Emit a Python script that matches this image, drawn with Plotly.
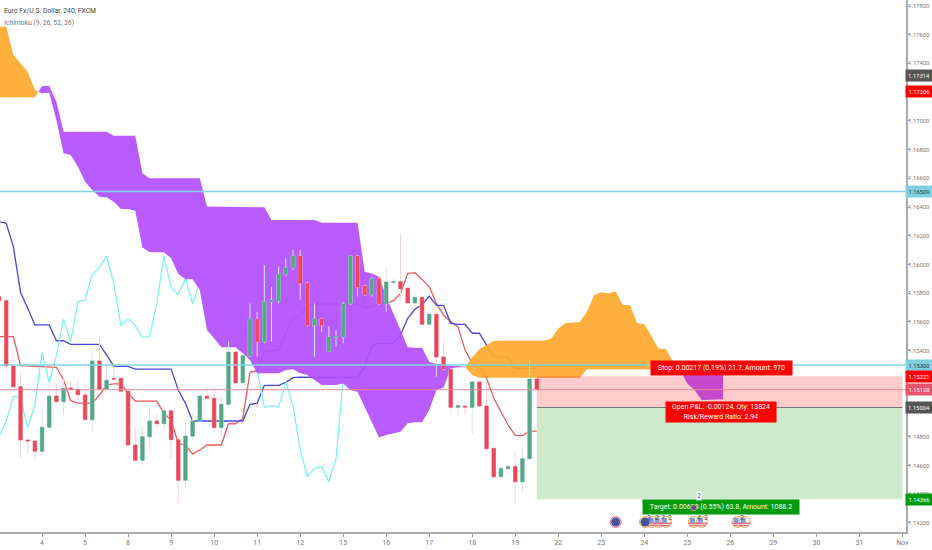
import plotly.graph_objects as go

# bar index 0 is the 4h bar under the "4" label, 6 bars per day
bar_x = list(range(-6, 70))
opens = [1.15776, 1.15748, 1.15293, 1.15149, 1.14778, 1.14771, 1.14699, 1.14866, 1.15084, 1.15045, 1.15140, 1.15128,
         1.15091, 1.14919, 1.15328, 1.15133, 1.15207, 1.15207, 1.15117, 1.14743, 1.14636, 1.14801, 1.14910, 1.14891,
         1.14982, 1.14780, 1.14497, 1.14805, 1.14908, 1.15082, 1.15068, 1.14864, 1.15026, 1.15390, 1.15177, 1.15365,
         1.15618, 1.15462, 1.15741, 1.15748, 1.15931, 1.15978, 1.16059, 1.15869, 1.15576, 1.15620, 1.15395, 1.15495,
         1.15495, 1.15727, 1.16059, 1.15850, 1.15790, 1.15903, 1.15727, 1.15876, 1.15880, 1.15836, 1.15732, 1.15771,
         1.15583, 1.15653, 1.15356, 1.15270, 1.15005, 1.15014, 1.15005, 1.15182, 1.15014, 1.14720, 1.14522, 1.14578,
         1.14594, 1.14487, 1.14648, 1.15202]
highs = [1.15822, 1.15764, 1.15293, 1.15253, 1.14789, 1.14771, 1.14998, 1.15172, 1.15172, 1.15219, 1.15195, 1.15195,
         1.15172, 1.15404, 1.15497, 1.15300, 1.15288, 1.15207, 1.15126, 1.14870, 1.14870, 1.14998, 1.14963, 1.14986,
         1.14986, 1.14789, 1.14905, 1.14963, 1.15084, 1.15154, 1.15149, 1.15079, 1.15462, 1.15390, 1.15370, 1.15729,
         1.15671, 1.15996, 1.15845, 1.15985, 1.16043, 1.16101, 1.16101, 1.15880, 1.15729, 1.15625, 1.15567, 1.15544,
         1.15741, 1.16059, 1.16066, 1.15857, 1.15915, 1.15915, 1.15985, 1.15903, 1.16217, 1.15836, 1.15811, 1.15771,
         1.15660, 1.15660, 1.15474, 1.15277, 1.15045, 1.15045, 1.15184, 1.15184, 1.15184, 1.14720, 1.14592, 1.14606,
         1.14696, 1.14720, 1.15335, 1.15202]
lows = [1.15748, 1.15265, 1.15144, 1.14650, 1.14685, 1.14643, 1.14673, 1.14866, 1.15033, 1.14952, 1.15126, 1.15056,
        1.14917, 1.14836, 1.15126, 1.15126, 1.15195, 1.15112, 1.14743, 1.14615, 1.14604, 1.14708, 1.14859, 1.14859,
        1.14650, 1.14337, 1.14441, 1.14778, 1.14905, 1.15060, 1.14836, 1.14812, 1.15020, 1.15161, 1.15172, 1.15358,
        1.15358, 1.15451, 1.15462, 1.15729, 1.15915, 1.15961, 1.15753, 1.15567, 1.15358, 1.15532, 1.15393, 1.15428,
        1.15451, 1.15718, 1.15776, 1.15780, 1.15776, 1.15718, 1.15671, 1.15857, 1.15753, 1.15718, 1.15728, 1.15579,
        1.15579, 1.15219, 1.15265, 1.14975, 1.14952, 1.14952, 1.14824, 1.15010, 1.14717, 1.14511, 1.14517, 1.14574,
        1.14337, 1.14418, 1.14645, 1.15125]
closes = [1.15748, 1.15293, 1.15149, 1.14778, 1.14771, 1.14699, 1.14866, 1.15084, 1.15045, 1.15137, 1.15133, 1.15093,
          1.14919, 1.15328, 1.15133, 1.15193, 1.15202, 1.15117, 1.14743, 1.14636, 1.14801, 1.14910, 1.14891, 1.14982,
          1.14780, 1.14497, 1.14805, 1.14908, 1.15084, 1.15068, 1.14864, 1.15026, 1.15390, 1.15177, 1.15365, 1.15618,
          1.15462, 1.15741, 1.15753, 1.15931, 1.15978, 1.16059, 1.15869, 1.15576, 1.15620, 1.15576, 1.15495, 1.15497,
          1.15727, 1.16059, 1.15841, 1.15790, 1.15903, 1.15727, 1.15878, 1.15880, 1.15831, 1.15732, 1.15771, 1.15583,
          1.15653, 1.15356, 1.15272, 1.15005, 1.15017, 1.15007, 1.15182, 1.15014, 1.14717, 1.14522, 1.14580, 1.14594,
          1.14487, 1.14648, 1.15202, 1.15128]

tenkan = [1.15497, 1.15497, 1.15497, 1.15295, 1.15293, 1.15291, 1.15291, 1.15288, 1.15284, 1.15196, 1.15052, 1.15035,
          1.15033, 1.15035, 1.15089, 1.15161, 1.15168, 1.15168, 1.15107, 1.15049, 1.15049, 1.15049, 1.15049, 1.14963,
          1.14917, 1.14754, 1.14743, 1.14680, 1.14708, 1.14743, 1.14743, 1.14743, 1.14891, 1.14891, 1.14928, 1.15249,
          1.15260, 1.15398, 1.15402, 1.15402, 1.15520, 1.15630, 1.15641, 1.15722, 1.15725, 1.15725, 1.15725, 1.15725,
          1.15725, 1.15725, 1.15725, 1.15702, 1.15708, 1.15727, 1.15727, 1.15748, 1.15799, 1.15938, 1.15943, 1.15896,
          1.15845, 1.15729, 1.15648, 1.15602, 1.15567, 1.15404, 1.15312, 1.15293, 1.15207, 1.15068, 1.14975, 1.14882,
          1.14810, 1.14808, 1.14840, 1.14840]
kijun = [1.16298, 1.16287, 1.16124, 1.15804, 1.15695, 1.15579, 1.15579, 1.15579, 1.15469, 1.15469, 1.15444, 1.15444,
         1.15444, 1.15444, 1.15444, 1.15370, 1.15293, 1.15291, 1.15291, 1.15272, 1.15272, 1.15272, 1.15272, 1.15272,
         1.15272, 1.15126, 1.15033, 1.14910, 1.14910, 1.14910, 1.14910, 1.14910, 1.14910, 1.14910, 1.14910, 1.15026,
         1.15033, 1.15158, 1.15158, 1.15158, 1.15179, 1.15212, 1.15216, 1.15214, 1.15214, 1.15214, 1.15214, 1.15214,
         1.15214, 1.15214, 1.15214, 1.15288, 1.15434, 1.15451, 1.15451, 1.15451, 1.15509, 1.15625, 1.15688, 1.15718,
         1.15780, 1.15715, 1.15715, 1.15590, 1.15583, 1.15583, 1.15521, 1.15521, 1.15439, 1.15358, 1.15353, 1.15353,
         1.15277, 1.15277, 1.15277, 1.15277]

chikou_x = list(range(-6, 44))
chikou = [1.14805, 1.14908, 1.15084, 1.15068, 1.14864, 1.15026, 1.15390, 1.15177, 1.15365, 1.15618, 1.15462, 1.15741,
          1.15753, 1.15931, 1.15978, 1.16059, 1.15869, 1.15576, 1.15620, 1.15576, 1.15495, 1.15497, 1.15727, 1.16059,
          1.15841, 1.15790, 1.15903, 1.15727, 1.15878, 1.15880, 1.15831, 1.15732, 1.15771, 1.15583, 1.15653, 1.15356,
          1.15272, 1.15005, 1.15017, 1.15007, 1.15182, 1.15014, 1.14717, 1.14522, 1.14580, 1.14594, 1.14487, 1.14648,
          1.15202, 1.15128]

span_x = list(range(-6, 96))
span_a = [1.17656, 1.17656, 1.17459, 1.17401, 1.17343, 1.17215, 1.17192, 1.17196, 1.17006, 1.16774, 1.16762, 1.16681,
          1.16577, 1.16519, 1.16472, 1.16468, 1.16437, 1.16386, 1.16386, 1.16375, 1.16119, 1.16085, 1.16085, 1.16085,
          1.16043, 1.15934, 1.15897, 1.15897, 1.15822, 1.15544, 1.15486, 1.15423, 1.15423, 1.15423, 1.15381, 1.15335,
          1.15242, 1.15242, 1.15242, 1.15242, 1.15265, 1.15270, 1.15242, 1.15230, 1.15195, 1.15161, 1.15161, 1.15161,
          1.15172, 1.15126, 1.15114, 1.15010, 1.14894, 1.14796, 1.14812, 1.14824, 1.14836, 1.14894, 1.14901, 1.14901,
          1.14987, 1.15126, 1.15144, 1.15277, 1.15284, 1.15284, 1.15353, 1.15411, 1.15439, 1.15467, 1.15469, 1.15469,
          1.15469, 1.15469, 1.15469, 1.15469, 1.15469, 1.15483, 1.15555, 1.15590, 1.15595, 1.15599, 1.15671, 1.15787,
          1.15806, 1.15799, 1.15813, 1.15718, 1.15718, 1.15590, 1.15586, 1.15497, 1.15414, 1.15414, 1.15325, 1.15260,
          1.15172, 1.15126, 1.15056, 1.15056, 1.15061, 1.15061]
span_b = [1.17164, 1.17164, 1.17164, 1.17164, 1.17164, 1.17164, 1.17243, 1.17243, 1.17134, 1.16925, 1.16925, 1.16925,
          1.16925, 1.16925, 1.16925, 1.16925, 1.16897, 1.16897, 1.16897, 1.16897, 1.16635, 1.16600, 1.16600, 1.16600,
          1.16600, 1.16600, 1.16600, 1.16600, 1.16600, 1.16403, 1.16398, 1.16398, 1.16398, 1.16398, 1.16398, 1.16398,
          1.16398, 1.16398, 1.16310, 1.16310, 1.16310, 1.16310, 1.16310, 1.16310, 1.16310, 1.16291, 1.16291, 1.16291,
          1.16291, 1.16291, 1.16291, 1.15950, 1.15938, 1.15915, 1.15776, 1.15660, 1.15544, 1.15423, 1.15421, 1.15421,
          1.15323, 1.15307, 1.15307, 1.15293, 1.15293, 1.15288, 1.15230, 1.15212, 1.15212, 1.15212, 1.15212, 1.15212,
          1.15212, 1.15212, 1.15212, 1.15212, 1.15212, 1.15212, 1.15212, 1.15212, 1.15212, 1.15212, 1.15270, 1.15270,
          1.15270, 1.15270, 1.15270, 1.15270, 1.15270, 1.15270, 1.15270, 1.15270, 1.15270, 1.15270, 1.15270, 1.15270,
          1.15270, 1.15270, 1.15270, 1.15270, 1.15270, 1.15270]

x_ticks = list(range(0, 121, 6))
x_labels = ["4", "5", "8", "9", "10", "11", "12", "15", "16", "17", "18", "19", "22", "23", "24", "25", "26", "29",
            "30", "31", "Nov"]
y_ticks = [1.178, 1.176, 1.174, 1.172, 1.17, 1.168, 1.166, 1.164, 1.162, 1.16, 1.158, 1.156, 1.154, 1.152, 1.15,
           1.148, 1.146, 1.144, 1.142]

level_upper = 1.16509
level_lower = 1.15300
last_price = 1.15128
stop_price = 1.15221
entry_price = 1.15004
target_price = 1.14366
trade_start = 69
trade_end = 120

eur_events = [80, 84.1]
usd_events = [85.1, 86, 87, 90.9, 92, 97, 98]
event_y = 1.14207
event_top_x = 90.9
event_top_y = 1.14318
event_counts = [(84.6, "3"), (85.7, "2"), (86.6, "7"), (87.6, "2"), (91.6, "4"), (92.6, "3"), (97.6, "2")]

# right hand price tags: price, background, text colour
price_tags = [
    (1.17314, "#555555", "white"),
    (1.17206, "#ff0000", "white"),
    (1.16509, "#7fd0e2", "#333333"),
    (1.15300, "#7fd0e2", "#333333"),
    (1.15221, "#ff0000", "white"),
    (1.15128, "#e9526a", "white"),
    (1.15004, "#555555", "white"),
    (1.14366, "#009c0d", "white"),
]

ORANGE = "rgba(255,168,45,0.92)"
PURPLE = "rgba(178,78,255,0.92)"
FONT = "Roboto"
X_RANGE = [-5.866, 120.5]
Y_RANGE = [1.141371, 1.178418]

fig = go.Figure()

fig.add_trace(go.Scatter(x=bar_x, y=tenkan, mode="lines", line=dict(color="#ee5a5a", width=1.3)))
fig.add_trace(go.Scatter(x=bar_x, y=kijun, mode="lines", line=dict(color="#4a46d8", width=1.3)))
fig.add_trace(go.Scatter(x=chikou_x, y=chikou, mode="lines", line=dict(color="#74f2f2", width=1.2)))

# cloud: one polygon per stretch between span crossings
seg_x, seg_a, seg_b = [span_x[0]], [span_a[0]], [span_b[0]]
for i in range(1, len(span_x)):
    d0 = span_a[i - 1] - span_b[i - 1]
    d1 = span_a[i] - span_b[i]
    if d0 * d1 < 0:
        t = d0 / (d0 - d1)
        cx = span_x[i - 1] + t
        cy = span_a[i - 1] + t * (span_a[i] - span_a[i - 1])
        seg_x.append(cx)
        seg_a.append(cy)
        seg_b.append(cy)
        fig.add_trace(go.Scatter(x=seg_x + seg_x[::-1], y=seg_a + seg_b[::-1], mode="lines", fill="toself",
                                 line=dict(width=0), fillcolor=ORANGE if d0 > 0 else PURPLE))
        seg_x, seg_a, seg_b = [cx], [cy], [cy]
    seg_x.append(span_x[i])
    seg_a.append(span_a[i])
    seg_b.append(span_b[i])
fig.add_trace(go.Scatter(x=seg_x + seg_x[::-1], y=seg_a + seg_b[::-1], mode="lines", fill="toself",
                         line=dict(width=0), fillcolor=PURPLE))

# candles go on overlaying axes, otherwise the scatter cloud paints over them
# wicks are paler than the bodies, so two candle layers
fig.add_trace(go.Candlestick(x=bar_x, open=opens, high=highs, low=lows, close=closes, whiskerwidth=0,
                             xaxis="x2", yaxis="y2",
                             increasing=dict(line=dict(color="#d5e6dd", width=1), fillcolor="rgba(0,0,0,0)"),
                             decreasing=dict(line=dict(color="#f5d3d8", width=1), fillcolor="rgba(0,0,0,0)")))
body_hi = [max(o, c) for o, c in zip(opens, closes)]
body_lo = [min(o, c) for o, c in zip(opens, closes)]
fig.add_trace(go.Candlestick(x=bar_x, open=opens, high=body_hi, low=body_lo, close=closes, whiskerwidth=0,
                             xaxis="x2", yaxis="y2",
                             increasing=dict(line=dict(color="#53a886", width=0.5), fillcolor="#53a886"),
                             decreasing=dict(line=dict(color="#e9475c", width=0.5), fillcolor="#e9475c")))

# position tool
fig.add_shape(type="rect", x0=trade_start, x1=trade_end, y0=entry_price, y1=stop_price, line_width=0,
              fillcolor="rgba(255,0,0,0.2)")
fig.add_shape(type="rect", x0=trade_start, x1=trade_end, y0=target_price, y1=entry_price, line_width=0,
              fillcolor="rgba(60,175,60,0.26)")
fig.add_shape(type="line", x0=trade_start, x1=trade_end, y0=entry_price, y1=entry_price,
              line=dict(color="#777777", width=1))

for level in [level_upper, level_lower]:
    fig.add_shape(type="line", xref="paper", x0=0, x1=1, y0=level, y1=level, line=dict(color="#7fd6e2", width=1.5))
fig.add_shape(type="line", xref="paper", x0=0, x1=1, y0=last_price, y1=last_price,
              line=dict(color="#e9889a", width=1))

fig.add_annotation(x=94.7, y=1.15277, text="Stop: 0.00217 (0.19%) 21.7, Amount: 970", showarrow=False, borderpad=0,
                   bgcolor="#ff0000", font=dict(color="white", size=7, family=FONT), height=13.5, width=141)
fig.add_annotation(x=94.7, y=1.14972, text="Open P&L: -0.00124, Qty: 13824<br>Risk/Reward Ratio: 2.94",
                   showarrow=False, bgcolor="#ff0000", font=dict(color="white", size=7, family=FONT), borderpad=0,
                   height=20, width=110)
fig.add_annotation(x=94.7, y=1.14313, text="Target: 0.00638 (0.55%) 63.8, Amount: 1088.2", showarrow=False,
                   bgcolor="#009c0d", font=dict(color="white", size=7, family=FONT), height=13.5, width=156,
                   borderpad=0)

# calendar events
fig.add_trace(go.Scatter(x=eur_events + usd_events, y=[event_y] * 9, mode="markers", cliponaxis=False,
                         marker=dict(size=11, color="white", line=dict(color=["#e8608f"] + ["#f5a34a"] * 8, width=1))))
fig.add_trace(go.Scatter(x=usd_events, y=[event_y - 0.00009] * 7, mode="markers",
                         marker=dict(size=8, symbol="line-ew", line=dict(color="#e8737f", width=1.5))))
fig.add_trace(go.Scatter(x=usd_events, y=[event_y - 0.00024] * 7, mode="markers",
                         marker=dict(size=6, symbol="line-ew", line=dict(color="#e8737f", width=1.5))))
fig.add_trace(go.Scatter(x=[e - 0.2 for e in usd_events], y=[event_y + 0.00012] * 7, mode="markers",
                         marker=dict(size=5, color="#7d9bdb", symbol="square")))
fig.add_trace(go.Scatter(x=eur_events, y=[event_y] * 2, mode="markers", marker=dict(size=9, color="#4a5599")))
for ex, label in event_counts:
    fig.add_annotation(x=ex, y=event_y + 0.00031, text=label, showarrow=False,
                       font=dict(color="#555555", size=7, family=FONT))
# top event sits over the target label in the reference, so it has to be an annotation glyph
fig.add_annotation(x=event_top_x, y=event_top_y, text="●", showarrow=False, font=dict(color="#f5a34a", size=15))
fig.add_annotation(x=event_top_x, y=event_top_y, text="●", showarrow=False, font=dict(color="#4a5599", size=12))
fig.add_annotation(x=91.6, y=1.14388, text="2", showarrow=False, bgcolor="white", borderpad=0,
                   font=dict(color="#555555", size=7, family=FONT))

fig.add_annotation(xref="paper", yref="paper", x=0, y=1, xshift=2, yshift=-5, xanchor="left", yanchor="top",
                   text="Euro Fx/U.S. Dollar, 240, FXCM", showarrow=False,
                   font=dict(color="#444444", size=6.8, family=FONT))
fig.add_annotation(xref="paper", yref="paper", x=0, y=1, xshift=2, yshift=-17, xanchor="left", yanchor="top",
                   text="Ichimoku (9, 26, 52, 26)", showarrow=False, font=dict(color="#777777", size=6.8, family=FONT))

for price, bg, fg in price_tags:
    fig.add_annotation(xref="paper", x=1, xshift=13, xanchor="center", y=price, text=f"{price:.5f}", showarrow=False,
                       width=26, height=11, bgcolor=bg, borderpad=0, font=dict(color=fg, size=5.8, family=FONT))

fig.update_xaxes(range=X_RANGE, tickvals=x_ticks, ticktext=x_labels, showgrid=False, zeroline=False,
                 rangeslider_visible=False, showline=True, linecolor="#aaaaaa", linewidth=2, ticks="outside",
                 ticklen=3, tickcolor="#999999", tickfont=dict(color="#777777", size=7, family=FONT), automargin=False)
fig.update_yaxes(range=Y_RANGE, side="right", tickvals=y_ticks, tickformat=".5f", showgrid=False,
                 zeroline=False, showline=True, linecolor="#aaaaaa", linewidth=2, ticks="outside", ticklen=2,
                 ticklabelstandoff=-3, tickcolor="#999999", tickfont=dict(color="#777777", size=5.8, family=FONT),
                 automargin=False)
fig.update_layout(width=932, height=550, margin=dict(l=0, r=26, t=0, b=18), paper_bgcolor="white",
                  plot_bgcolor="white", showlegend=False,
                  xaxis2=dict(overlaying="x", range=X_RANGE, visible=False, rangeslider_visible=False),
                  yaxis2=dict(overlaying="y", range=Y_RANGE, visible=False))

# the page's default body margin would push the fixed-size plot off the window
fig.write_html("out.html", config={"displayModeBar": False},
               post_script="document.body.style.margin='0';document.body.style.overflow='hidden';")
